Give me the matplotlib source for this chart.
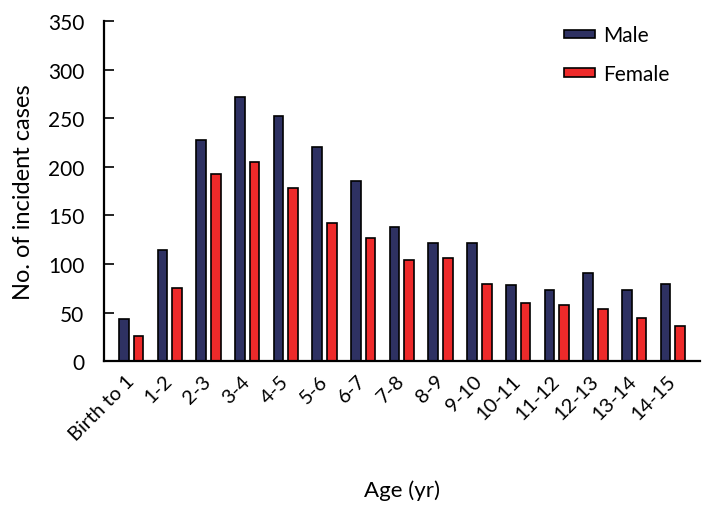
import matplotlib
matplotlib.use("Agg")
import matplotlib.pyplot as plt
import matplotlib.transforms as mtransforms
import numpy as np

plt.rcParams['font.family'] = ['Lato', 'DejaVu Sans']

categories = ["Birth to 1", "1-2", "2-3", "3-4", "4-5", "5-6", "6-7", "7-8",
              "8-9", "9-10", "10-11", "11-12", "12-13", "13-14", "14-15"]
male = [43, 114, 228, 272, 252, 220, 185, 138, 121, 122, 78, 73, 91, 73, 79]
female = [26, 75, 192, 205, 178, 142, 127, 104, 106, 79, 60, 58, 54, 44, 36]
yticks = [0, 50, 100, 150, 200, 250, 300, 350]

male_color = "#2e3162"
female_color = "#ee2a2a"

fig = plt.figure(figsize=(7.12, 5.10), dpi=100)
ax = fig.add_axes([0.146, 0.290, 0.837, 0.667])

x = np.arange(len(categories))
w = 0.25
ax.bar(x - 0.19, male, width=w, color=male_color, edgecolor="black",
       linewidth=1.2, label="Male")
ax.bar(x + 0.19, female, width=w, color=female_color, edgecolor="black",
       linewidth=1.2, label="Female")

ax.set_xlim(-0.7, len(categories) - 0.3)
ax.set_ylim(0, 350)
ax.set_yticks(yticks)
ax.set_xticks(x)
ax.set_xticklabels(categories, rotation=45, ha="right", va="center",
                   rotation_mode="anchor", fontsize=14.5)
offset = mtransforms.ScaledTranslation(12 / 100, 0, fig.dpi_scale_trans)
for lab in ax.get_xticklabels():
    lab.set_transform(lab.get_transform() + offset)

ax.spines["top"].set_visible(False)
ax.spines["right"].set_visible(False)
ax.spines["left"].set_linewidth(1.6)
ax.spines["bottom"].set_linewidth(1.6)
ax.tick_params(axis="y", direction="in", length=7, width=1.2, pad=14,
               labelsize=15)
ax.tick_params(axis="x", length=0, pad=12)

ax.set_ylabel("No. of incident cases", fontsize=17, labelpad=10)
ax.set_xlabel("Age (yr)", fontsize=16, labelpad=26)

leg = ax.legend(loc="upper left", bbox_to_anchor=(0.74, 1.042), frameon=False,
                fontsize=15, handlelength=1.5, handleheight=0.25,
                handletextpad=0.4, labelspacing=0.9)

fig.savefig("out.png", dpi=100)
